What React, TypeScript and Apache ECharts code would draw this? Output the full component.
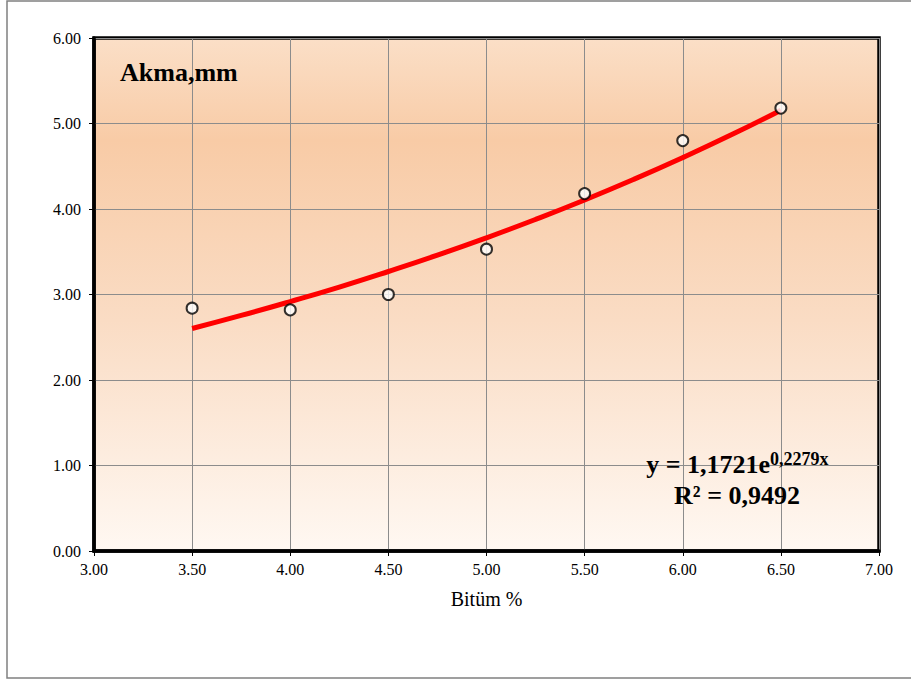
import React, { useEffect, useRef } from "react";
import * as echarts from "echarts";

const bitumen = [3.5, 4.0, 4.5, 5.0, 5.5, 6.0, 6.5];
const flow = [2.84, 2.82, 3.0, 3.53, 4.18, 4.8, 5.18];

// trendline y = 1,1721e^(0,2279x)
const trendX = [3.5, 3.75, 4.0, 4.25, 4.5, 4.75, 5.0, 5.25, 5.5, 5.75, 6.0, 6.25, 6.5];
const trendY = [2.602, 2.755, 2.917, 3.087, 3.269, 3.46, 3.663, 3.878, 4.105, 4.346, 4.601, 4.87, 5.156];

const titleText = "Akma,mm";
const xAxisName = "Bitüm %";
const eqMain = "y = 1,1721e";
const eqSup = "0,2279x";
const r2Text = "R² = 0,9492";

const FONT = "'Liberation Serif', 'Times New Roman', serif";

export default function App() {
  const ref = useRef<HTMLDivElement>(null);
  useEffect(() => {
    if (!ref.current) return;
    const chart = echarts.init(ref.current, undefined, { renderer: "svg" });
    chart.setOption({
      animation: false,
      backgroundColor: "#ffffff",
      textStyle: { fontFamily: FONT },
      grid: {
        left: 94,
        top: 38,
        right: 32,
        bottom: 130,
        show: true,
        borderColor: "#000",
        borderWidth: 3.5,
        backgroundColor: new echarts.graphic.LinearGradient(0, 0, 0, 1, [
          { offset: 0, color: "#FBDFC7" },
          { offset: 0.2, color: "#F8CBA6" },
          { offset: 0.55, color: "#FADCC4" },
          { offset: 1, color: "#FFF8F2" },
        ]),
      },
      xAxis: {
        type: "value",
        min: 3,
        max: 7,
        interval: 0.5,
        name: xAxisName,
        nameLocation: "middle",
        nameGap: 38,
        nameTextStyle: { fontFamily: FONT, fontSize: 20, color: "#000" },
        axisLine: { show: true, lineStyle: { color: "#000", width: 3.5 } },
        axisTick: { show: true, length: 5, lineStyle: { color: "#000", width: 1 } },
        axisLabel: {
          fontFamily: FONT,
          fontSize: 16,
          color: "#000",
          margin: 10,
          formatter: (v: number) => v.toFixed(2),
        },
        splitLine: { show: true, lineStyle: { color: "#8c8c8c", width: 1 } },
      },
      yAxis: {
        type: "value",
        min: 0,
        max: 6,
        interval: 1,
        axisLine: { show: true, lineStyle: { color: "#000", width: 3.5 } },
        axisTick: { show: true, length: 5, lineStyle: { color: "#000", width: 1 } },
        axisLabel: {
          fontFamily: FONT,
          fontSize: 16,
          color: "#000",
          margin: 13,
          formatter: (v: number) => v.toFixed(2),
        },
        splitLine: { show: true, lineStyle: { color: "#8c8c8c", width: 1 } },
      },
      series: [
        {
          type: "line",
          data: trendX.map((x, i) => [x, trendY[i]]),
          smooth: true,
          showSymbol: false,
          symbol: "none",
          lineStyle: { color: "#ff0000", width: 5 },
          z: 3,
        },
        {
          type: "scatter",
          data: bitumen.map((x, i) => [x, flow[i]]),
          symbol: "circle",
          symbolSize: 11,
          itemStyle: { color: "#ffffff", borderColor: "#000", borderWidth: 2 },
          z: 4,
        },
      ],
      graphic: [
        {
          type: "rect",
          shape: { x: 7, y: 1, width: 920, height: 677 },
          style: { fill: "none", stroke: "#808080", lineWidth: 1.5 },
          z: 100,
          silent: true,
        },
        {
          type: "text",
          x: 120,
          y: 72,
          style: {
            text: titleText,
            font: `bold 26px ${FONT}`,
            fill: "#000",
            textAlign: "left",
            textVerticalAlign: "middle",
          },
          z: 50,
        },
        {
          type: "text",
          x: 770,
          y: 464,
          style: {
            text: eqMain,
            font: `bold 26px ${FONT}`,
            fill: "#000",
            textAlign: "right",
            textVerticalAlign: "middle",
          },
          z: 50,
        },
        {
          type: "text",
          x: 770,
          y: 459,
          style: {
            text: eqSup,
            font: `bold 18px ${FONT}`,
            fill: "#000",
            textAlign: "left",
            textVerticalAlign: "middle",
          },
          z: 50,
        },
        {
          type: "text",
          x: 737,
          y: 495,
          style: {
            text: r2Text,
            font: `bold 26px ${FONT}`,
            fill: "#000",
            textAlign: "center",
            textVerticalAlign: "middle",
          },
          z: 50,
        },
      ],
    });
    return () => chart.dispose();
  }, []);
  return (
    <div
      ref={ref}
      style={{ position: "fixed", left: 0, top: 0, width: 911, height: 681 }}
    />
  );
}
